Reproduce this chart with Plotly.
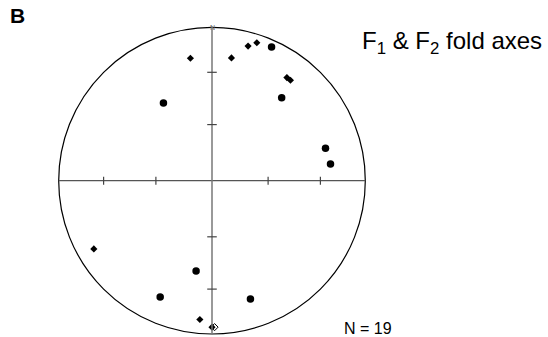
import numpy as np
import plotly.graph_objects as go

# fold axes, trend / plunge in degrees (lower hemisphere, equal-area)
circle_trend = [24, 40, 328, 74, 82, 190, 204, 162]
circle_plunge = [5, 30, 40, 24, 23, 40, 18, 20]

diamond_trend = [350, 9, 15, 18, 36, 38, 240, 185, 180]
diamond_plunge = [20, 20, 10, 6, 18, 18, 12, 10, 5]

open_trend = [179]
open_plunge = [5]

tick_plunges = [30, 60]
tick_trends = [0, 90, 180, 270]

n_total = 19


def schmidt(trend, plunge):
    t = np.radians(np.asarray(trend, float))
    p = np.radians(np.asarray(plunge, float))
    r = np.sqrt(2) * np.sin((np.pi / 2 - p) / 2)
    return r * np.sin(t), r * np.cos(t)


W, H = 548, 337
ml, mr, mt, mb = 40, 168, 10, 1
CX, CY, R = 212, 180.7, 153.3

# pixel -> data / paper helpers (for the axis ranges and text placement)
def px_x(px):
    return (px - CX) / R
def px_y(py):
    return (CY - py) / R
def paper_x(px):
    return (px - ml) / (W - ml - mr)
def paper_y(py):
    return (H - mb - py) / (H - mt - mb)


fig = go.Figure()

# primitive circle
fig.add_shape(type="circle", x0=-1, y0=-1, x1=1, y1=1,
              line=dict(color="black", width=1.2))
# cross
fig.add_shape(type="line", x0=-1, y0=0, x1=1, y1=0, line=dict(color="#555", width=1.3))
fig.add_shape(type="line", x0=0, y0=-1, x1=0, y1=1.005, line=dict(color="#777", width=1.5))

# plunge ticks on the cross
tl = 4 / R
for tr in tick_trends:
    for pl in tick_plunges:
        x, y = schmidt([tr], [pl])
        x, y = float(x[0]), float(y[0])
        if tr in (0, 180):
            fig.add_shape(type="line", x0=x - tl - 0.005, x1=x + tl + 0.005, y0=y, y1=y,
                          line=dict(color="#444", width=1.2))
        else:
            fig.add_shape(type="line", x0=x, x1=x, y0=y - tl, y1=y + tl,
                          line=dict(color="#444", width=1.2))

cx, cy = schmidt(circle_trend, circle_plunge)
fig.add_trace(go.Scatter(x=cx, y=cy, mode="markers",
                         marker=dict(symbol="circle", size=7.5, color="black")))
ox, oy = schmidt(open_trend, open_plunge)
fig.add_trace(go.Scatter(x=ox, y=oy, mode="markers",
                         marker=dict(symbol="diamond-open", size=5.5, color="black",
                                     line=dict(width=1))))
dx, dy = schmidt(diamond_trend, diamond_plunge)
fig.add_trace(go.Scatter(x=dx, y=dy, mode="markers",
                         marker=dict(symbol="diamond", size=5.5, color="black")))

font = "Liberation Sans, Arial, sans-serif"
fig.add_annotation(xref="paper", yref="paper", x=paper_x(CX), y=paper_y(22), text="N",
                   showarrow=False, font=dict(family=font, size=7, color="#666"))
fig.add_annotation(xref="paper", yref="paper", x=paper_x(8), y=paper_y(2), text="<b>B</b>",
                   showarrow=False, xanchor="left", yanchor="top",
                   font=dict(family=font, size=21, color="black"))
fig.add_annotation(xref="paper", yref="paper", x=paper_x(360), y=paper_y(42),
                   text="F<sub>1</sub> & F<sub>2</sub> fold axes",
                   showarrow=False, xanchor="left", yanchor="middle",
                   font=dict(family=font, size=24, color="black"))
fig.add_annotation(xref="paper", yref="paper", x=paper_x(342), y=paper_y(328),
                   text=f"N = {n_total}", showarrow=False, xanchor="left", yanchor="middle",
                   font=dict(family=font, size=16, color="black"))

fig.update_xaxes(range=[px_x(ml), px_x(W - mr)], visible=False, showgrid=False, zeroline=False)
fig.update_yaxes(range=[px_y(H - mb), px_y(mt)], visible=False, showgrid=False, zeroline=False)
fig.update_layout(width=W, height=H, margin=dict(l=ml, r=mr, t=mt, b=mb),
                  showlegend=False, plot_bgcolor="white", paper_bgcolor="white")

fig.write_html("out.html", config={"displayModeBar": False},
               post_script="document.body.style.margin='0';")
